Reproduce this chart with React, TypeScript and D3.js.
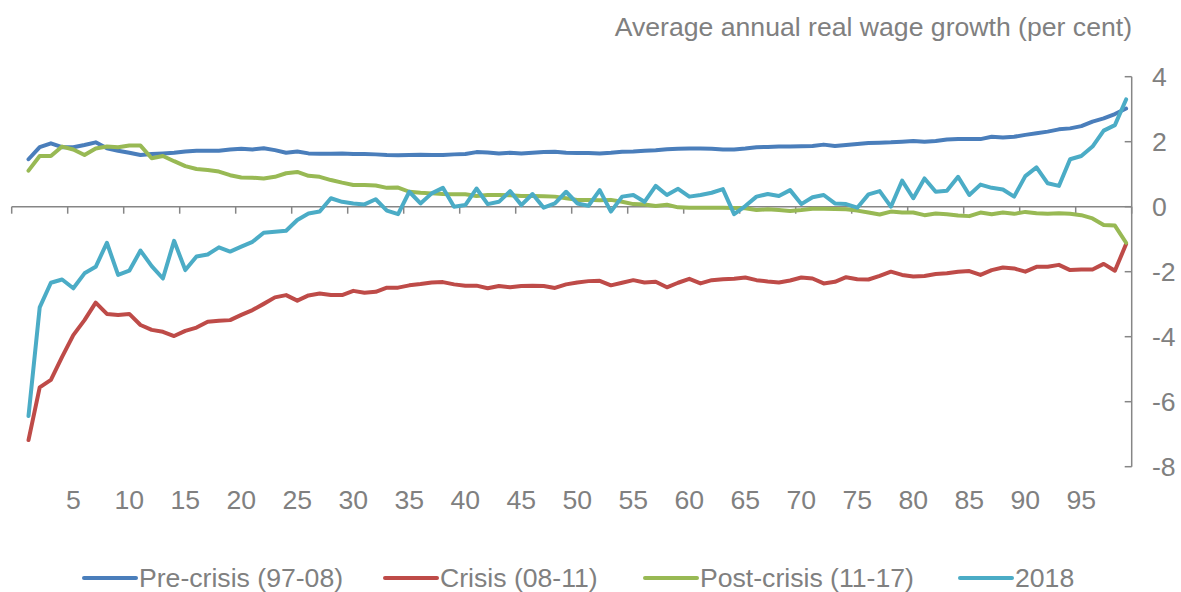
import React from "react";
import * as d3 from "d3";

const percentiles: number[] = d3.range(1, 100);

const preCrisis: number[] = [
  1.46, 1.83, 1.95, 1.83, 1.83, 1.9, 1.98, 1.8, 1.72, 1.66,
  1.59, 1.62, 1.64, 1.66, 1.7, 1.72, 1.72, 1.72, 1.76, 1.78,
  1.76, 1.8, 1.74, 1.66, 1.7, 1.64, 1.63, 1.63, 1.64, 1.62,
  1.62, 1.61, 1.59, 1.58, 1.59, 1.6, 1.59, 1.59, 1.61, 1.62,
  1.68, 1.67, 1.64, 1.66, 1.64, 1.66, 1.68, 1.69, 1.66, 1.65,
  1.65, 1.64, 1.66, 1.69, 1.7, 1.72, 1.74, 1.77, 1.78, 1.79,
  1.79, 1.78, 1.76, 1.76, 1.79, 1.83, 1.84, 1.85, 1.85, 1.86,
  1.87, 1.91, 1.87, 1.9, 1.93, 1.96, 1.97, 1.98, 2.0, 2.02,
  2.0, 2.02, 2.07, 2.08, 2.08, 2.08, 2.15, 2.13, 2.15, 2.21,
  2.26, 2.31, 2.38, 2.41, 2.48, 2.62, 2.72, 2.85, 3.02,
];

const crisis: number[] = [
  -7.18, -5.56, -5.33, -4.62, -3.95, -3.49, -2.95, -3.3, -3.33, -3.3,
  -3.64, -3.79, -3.85, -3.98, -3.82, -3.72, -3.54, -3.51, -3.49, -3.33,
  -3.18, -2.99, -2.79, -2.72, -2.89, -2.73, -2.67, -2.72, -2.72, -2.59,
  -2.65, -2.62, -2.49, -2.49, -2.42, -2.38, -2.33, -2.32, -2.39, -2.43,
  -2.43, -2.51, -2.44, -2.48, -2.44, -2.43, -2.44, -2.5, -2.39, -2.33,
  -2.29, -2.28, -2.42, -2.34, -2.26, -2.33, -2.31, -2.48, -2.34, -2.22,
  -2.36, -2.26, -2.23, -2.22, -2.18, -2.26, -2.3, -2.33, -2.27, -2.18,
  -2.21, -2.36, -2.31, -2.17, -2.23, -2.24, -2.13, -2.0, -2.1, -2.15,
  -2.13, -2.07, -2.05, -2.0, -1.98, -2.1, -1.95, -1.87, -1.9, -2.0,
  -1.85, -1.85, -1.79, -1.95, -1.93, -1.93, -1.76, -1.97, -1.15,
];

const postCrisis: number[] = [
  1.11, 1.56, 1.56, 1.85, 1.76, 1.59, 1.79, 1.85, 1.83, 1.88,
  1.88, 1.49, 1.56, 1.4, 1.25, 1.16, 1.13, 1.08, 0.97, 0.9,
  0.89, 0.87, 0.92, 1.03, 1.07, 0.95, 0.92, 0.82, 0.74, 0.67,
  0.67, 0.65, 0.58, 0.59, 0.46, 0.43, 0.41, 0.39, 0.38, 0.38,
  0.33, 0.36, 0.36, 0.35, 0.33, 0.33, 0.32, 0.31, 0.26, 0.21,
  0.21, 0.2, 0.21, 0.15, 0.08, 0.07, 0.02, 0.06, -0.02, -0.03,
  -0.03, -0.03, -0.03, -0.04, -0.05, -0.1, -0.08, -0.1, -0.13, -0.1,
  -0.06, -0.06, -0.07, -0.08, -0.12, -0.18, -0.24, -0.15, -0.18, -0.18,
  -0.26, -0.21, -0.23, -0.27, -0.29, -0.18, -0.23, -0.18, -0.22, -0.16,
  -0.2, -0.22, -0.2, -0.22, -0.26, -0.36, -0.56, -0.58, -1.11,
];

const y2018: number[] = [
  -6.44, -3.1, -2.34, -2.24, -2.51, -2.05, -1.85, -1.11, -2.1, -1.97,
  -1.35, -1.83, -2.21, -1.05, -1.95, -1.53, -1.47, -1.25, -1.38, -1.23,
  -1.08, -0.8, -0.77, -0.74, -0.41, -0.21, -0.15, 0.26, 0.15, 0.1,
  0.07, 0.23, -0.12, -0.23, 0.46, 0.1, 0.41, 0.58, 0.0, 0.05,
  0.56, 0.08, 0.15, 0.48, 0.05, 0.39, -0.03, 0.1, 0.46, 0.1,
  0.03, 0.51, -0.15, 0.31, 0.36, 0.15, 0.64, 0.36, 0.55, 0.31,
  0.36, 0.43, 0.54, -0.23, 0.02, 0.31, 0.39, 0.33, 0.51, 0.08,
  0.29, 0.36, 0.1, 0.08, -0.03, 0.38, 0.48, 0.0, 0.8, 0.26,
  0.87, 0.46, 0.49, 0.92, 0.36, 0.68, 0.58, 0.53, 0.31, 0.94,
  1.21, 0.72, 0.64, 1.46, 1.56, 1.85, 2.34, 2.51, 3.3,
];

const seriesNames: string[] = ["Pre-crisis (97-08)", "Crisis (08-11)", "Post-crisis (11-17)", "2018"];
const seriesColors: string[] = ["#4A7EBB", "#BE4B48", "#98B954", "#4BACC6"];
const xTickLabels: number[] = d3.range(5, 100, 5);
const yTicks: number[] = [4, 2, 0, -2, -4, -6, -8];
const title = "Average annual real wage growth (per cent)";

const W = 1181;
const H = 592;
const FONT = "'Liberation Sans', Arial, sans-serif";
const TEXT = "#808080";
const AXIS = "#868686";
const SX = 1.065;

function Label(props: { x: number; y: number; anchor?: string; children: React.ReactNode }) {
  return (
    <text
      transform={`translate(${props.x},${props.y}) scale(${SX},1)`}
      textAnchor={props.anchor || "start"}
      fontFamily={FONT}
      fontSize={25}
      fill={TEXT}
    >
      {props.children}
    </text>
  );
}

export default function App() {
  const x = d3
    .scaleBand<number>()
    .domain(d3.range(0, 100))
    .range([11.7, 1131.7])
    .padding(0);
  const y = d3.scaleLinear().domain([-8, 4]).range([466.7, 76.7]);
  const cx = (k: number) => (x(k) as number) + x.bandwidth() / 2;

  const all = [preCrisis, crisis, postCrisis, y2018];
  const line = d3
    .line<number>()
    .x((_, i) => cx(percentiles[i]))
    .y((v) => y(v));

  const boundaryTicks = d3.range(0, 101, 5).map((k) => 11.7 + k * x.bandwidth());
  const legendX = [84, 385, 645, 960];
  const legendY = 578;

  return (
    <div style={{ position: "fixed", left: 0, top: 0 }}>
      <svg width={W} height={H} style={{ display: "block", background: "#fff" }}>
        <Label x={1132} y={36} anchor="end">{title}</Label>

        {/* x axis */}
        <line x1={x.range()[0]} x2={x.range()[1]} y1={y(0)} y2={y(0)} stroke={AXIS} strokeWidth={1.5} />
        {boundaryTicks.map((t, i) => (
          <line key={"xt" + i} x1={t} x2={t} y1={y(0)} y2={y(0) + 7} stroke={AXIS} strokeWidth={1.5} />
        ))}
        {xTickLabels.map((k) => (
          <Label key={"xl" + k} x={cx(k)} y={509} anchor="middle">{k}</Label>
        ))}

        {/* y axis */}
        <line x1={1131.7} x2={1131.7} y1={y(4)} y2={y(-8)} stroke={AXIS} strokeWidth={1.5} />
        {yTicks.map((v) => (
          <g key={"yt" + v}>
            <line x1={1124.7} x2={1131.7} y1={y(v)} y2={y(v)} stroke={AXIS} strokeWidth={1.5} />
            <Label x={1152} y={y(v) + 9}>{v}</Label>
          </g>
        ))}

        {/* series */}
        {all.map((s, i) => (
          <path
            key={"s" + i}
            d={line(s) || ""}
            fill="none"
            stroke={seriesColors[i]}
            strokeWidth={4}
            strokeLinejoin="round"
            strokeLinecap="round"
          />
        ))}

        {/* legend */}
        {seriesNames.map((n, i) => (
          <g key={"lg" + i}>
            <line
              x1={legendX[i]}
              x2={legendX[i] + 52}
              y1={legendY}
              y2={legendY}
              stroke={seriesColors[i]}
              strokeWidth={4}
              strokeLinecap="round"
            />
            <Label x={legendX[i] + 55} y={legendY + 9}>{n}</Label>
          </g>
        ))}
      </svg>
    </div>
  );
}
